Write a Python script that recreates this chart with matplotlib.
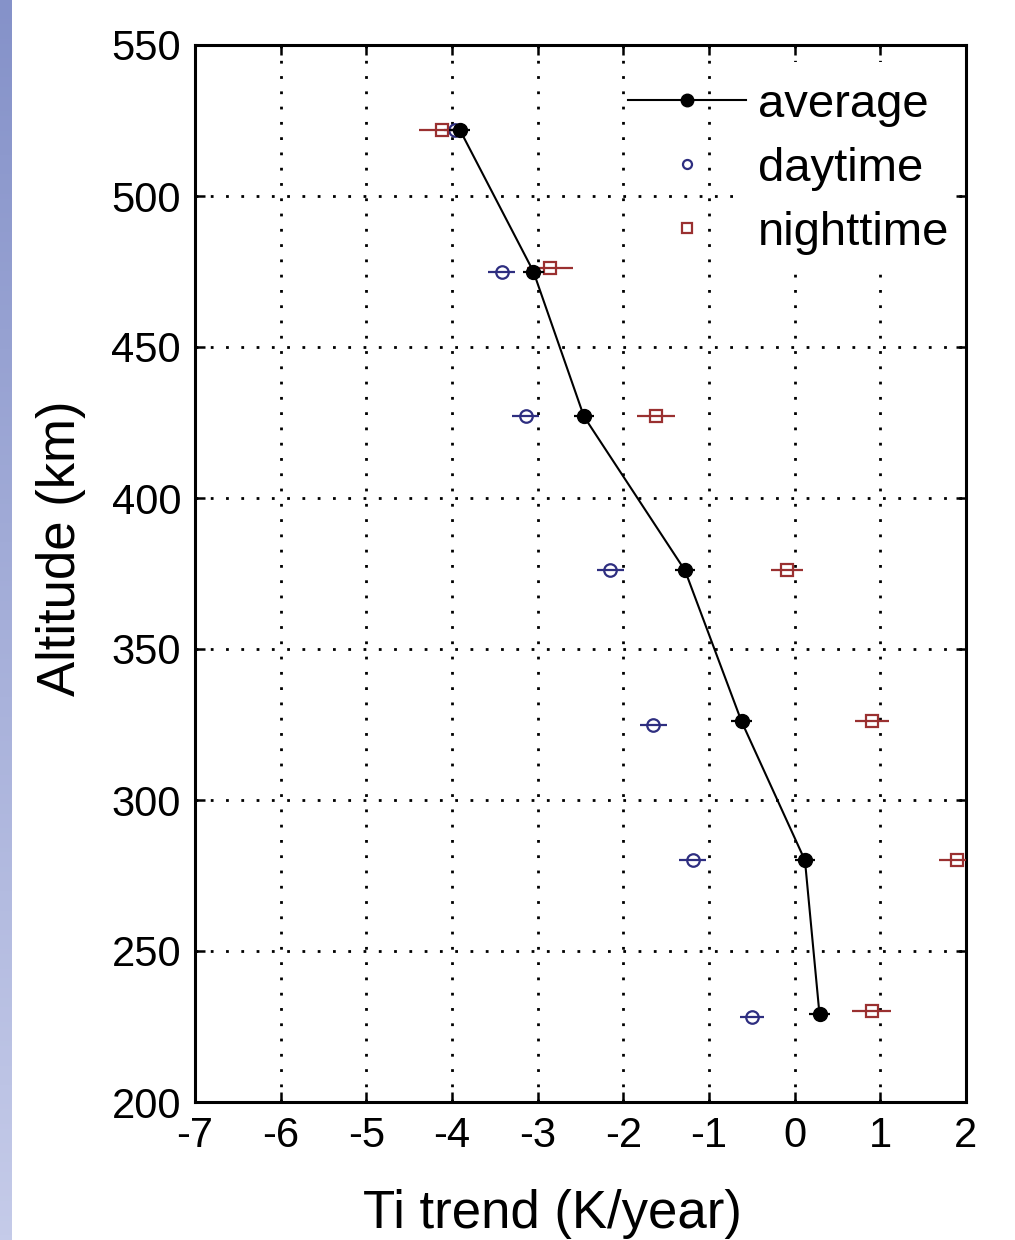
import numpy as np
import matplotlib
matplotlib.use("Agg")
import matplotlib.pyplot as plt
from matplotlib.lines import Line2D
from matplotlib.patches import Rectangle
from matplotlib.colors import LinearSegmentedColormap

plt.rcParams['font.family'] = ['Liberation Sans', 'DejaVu Sans']

# ---- data ----
altitude_avg = [522, 475, 427, 376, 326, 280, 229]
trend_avg = [-3.91, -3.05, -2.46, -1.28, -0.62, 0.12, 0.29]
err_avg = [0.12, 0.12, 0.12, 0.12, 0.12, 0.12, 0.12]

altitude_day = [522, 475, 427, 376, 325, 280, 228]
trend_day = [-3.97, -3.42, -3.14, -2.15, -1.65, -1.19, -0.50]
err_day = [0.12, 0.16, 0.16, 0.16, 0.16, 0.16, 0.14]

altitude_night = [522, 476, 427, 376, 326, 280, 230]
trend_night = [-4.12, -2.86, -1.62, -0.09, 0.90, 1.90, 0.90]
err_night = [0.27, 0.27, 0.22, 0.19, 0.20, 0.22, 0.23]

xticks = [-7, -6, -5, -4, -3, -2, -1, 0, 1, 2]
yticks = [200, 250, 300, 350, 400, 450, 500, 550]

blue = '#2e2e80'
red = '#9a3030'

fig = plt.figure(figsize=(10.15, 12.4), dpi=100)

# left decorative gradient strip
sax = fig.add_axes([0, 0, 12 / 1015, 1])
grad = np.linspace(0, 1, 256).reshape(-1, 1)
cm = LinearSegmentedColormap.from_list('strip', ['#8592c9', '#c5cbe9'])
sax.imshow(grad, aspect='auto', cmap=cm, extent=[0, 1, 0, 1], origin='upper')
sax.axis('off')

ax = fig.add_axes([195 / 1015, 1 - 1102 / 1240, 771 / 1015, 1057 / 1240])
ax.set_axisbelow(True)

ax.errorbar(trend_day, altitude_day, xerr=err_day, fmt='o', color=blue,
            mfc='none', mec=blue, ms=9, mew=1.6, elinewidth=1.6, capsize=0, zorder=3)
ax.errorbar(trend_night, altitude_night, xerr=err_night, fmt='s', color=red,
            mfc='none', mec=red, ms=8.5, mew=1.6, elinewidth=1.6, capsize=0, zorder=3)
ax.errorbar(trend_avg, altitude_avg, xerr=err_avg, fmt='-o', color='black',
            mfc='black', mec='black', ms=10, lw=1.5, elinewidth=1.6, capsize=0, zorder=4)

ax.set_xlim(-7, 2)
ax.set_ylim(200, 550)
ax.set_xticks(xticks)
ax.set_yticks(yticks)
ax.set_xticklabels([str(t) for t in xticks])
ax.set_yticklabels([str(t) for t in yticks])

ax.grid(True, color='black', linestyle=(0, (1, 4.5)), linewidth=2)

for sp in ax.spines.values():
    sp.set_linewidth(2.2)
ax.tick_params(direction='in', length=7, width=1.8, top=True, right=True,
               labelsize=30, pad=10)

ax.set_xlabel('Ti trend (K/year)', fontsize=38, va='baseline')
ax.xaxis.set_label_coords((552 - 195) / 771, (1102 - 1228) / 1057)
ax.set_ylabel('Altitude (km)', fontsize=38, va='baseline')
ax.yaxis.set_label_coords((75 - 195) / 771, (1102 - 548) / 1057)

# white background behind legend text (covers grid as in the original)
ax.add_patch(Rectangle(((745 - 195) / 771, (1102 - 264) / 1057), (952 - 745) / 771,
                       (264 - 62) / 1057, transform=ax.transAxes,
                       facecolor='white', edgecolor='none', zorder=1))

handles = [
    Line2D([], [], color='black', lw=1.5, marker='o', ms=9, mfc='black'),
    Line2D([], [], color=blue, lw=0, marker='o', ms=6.5, mfc='none', mew=1.6),
    Line2D([], [], color=red, lw=0, marker='s', ms=6.5, mfc='none', mew=1.6),
]
leg = ax.legend(handles, ['average', 'daytime', 'nighttime'], loc='upper left',
                bbox_to_anchor=((628 - 195) / 771, (1102 - 83) / 1057),
                frameon=False, fontsize=34, borderpad=0, borderaxespad=0,
                handlelength=2.5, handletextpad=0.25, labelspacing=0.42)
leg.set_zorder(5)

fig.savefig('out.png', dpi=100)
